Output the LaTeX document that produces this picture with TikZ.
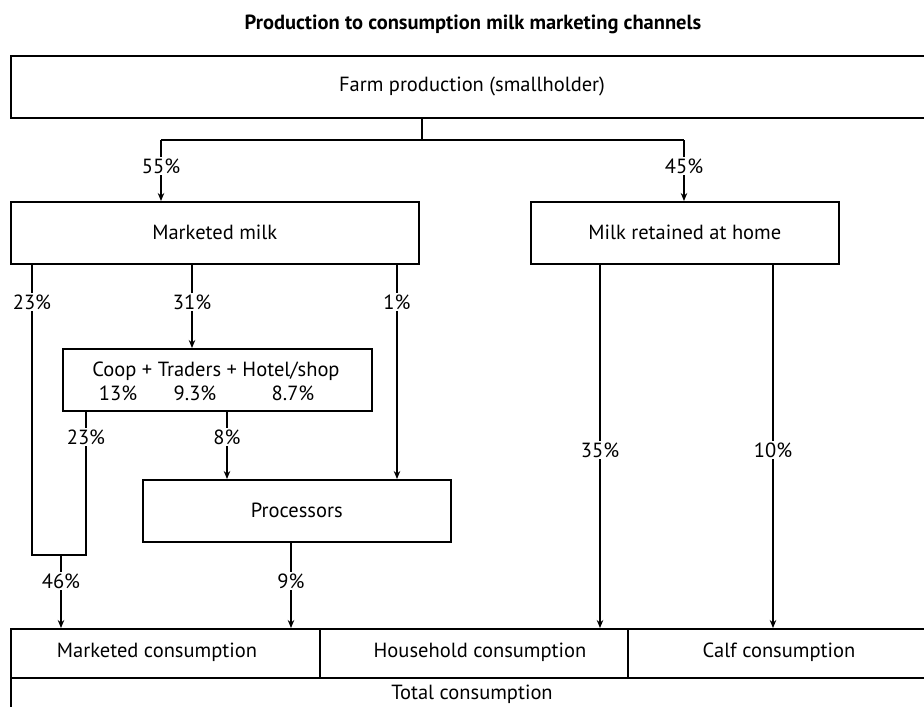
\documentclass[tikz,border=0pt]{standalone}
\usepackage{fontspec}
\setmainfont{PT Sans}
\usetikzlibrary{arrows.meta}
\begin{document}
\begin{tikzpicture}[x=1pt,y=-1pt,
  box/.style={draw, line width=1.6pt, rectangle, inner sep=0pt, anchor=north west, font=\fontsize{20.5}{24}\selectfont},
  lab/.style={inner sep=1.5pt, font=\fontsize{20.5}{24}\selectfont},
  txt/.style={inner sep=0pt, font=\fontsize{20.5}{24}\selectfont},
  con/.style={line width=1.3pt},
  arr/.style={con, -{Stealth[length=8pt,width=6.5pt]}}]
\useasboundingbox (0,0) rectangle (924,707);
\clip (0,0) rectangle (924,707);

% title
\node[font=\bfseries\fontsize{20.5}{24}\selectfont] (title) at (473,24) {Production to consumption milk marketing channels};

% boxes
\node[box, minimum width=930pt, minimum height=62pt] (farm) at (10,55) {};
\node[txt] (farmtext) at (472,86) {Farm production (smallholder)};
\node[box, minimum width=408pt, minimum height=62pt] (mm) at (10,201) {Marketed milk};
\node[box, minimum width=308pt, minimum height=62pt] (home) at (530,201) {Milk retained at home};
\node[box, minimum width=309pt, minimum height=62pt] (coop) at (62,348) {};
\node[txt] (cooptext) at (216,371) {Coop + Traders + Hotel/shop};
\node[txt] (p13) at (118,393) {13\%};
\node[txt] (p93) at (195,393) {9.3\%};
\node[txt] (p87) at (293,393) {8.7\%};
\node[box, minimum width=308pt, minimum height=62pt] (proc) at (142,479) {Processors};
\node[box, minimum width=309pt, minimum height=49pt] (mc) at (10,628) {};
\node[txt] (mctext) at (157,652) {Marketed consumption};
\node[box, minimum width=308pt, minimum height=49pt] (hc) at (319,628) {};
\node[txt] (hctext) at (480,652) {Household consumption};
\node[box, minimum width=320pt, minimum height=49pt] (cc) at (627,628) {};
\node[txt] (cctext) at (779,652) {Calf consumption};
\node[box, minimum width=940pt, minimum height=40pt] (tc) at (10,677) {};
\node[txt] (tctext) at (472,694) {Total consumption};

% labels
\node[lab] (l55) at (161,166) {55\%};
\node[lab] (l45) at (684,166) {45\%};
\node[lab] (l23a) at (32,302) {23\%};
\node[lab] (l31) at (192,302) {31\%};
\node[lab] (l1) at (397,302) {1\%};
\node[lab] (l23b) at (86,437) {23\%};
\node[lab] (l8) at (227,437) {8\%};
\node[lab] (l46) at (61,581) {46\%};
\node[lab] (l9) at (291,581) {9\%};
\node[lab] (l35) at (600,450) {35\%};
\node[lab] (l10) at (773,450) {10\%};

\coordinate (fj) at (422,140);
\coordinate (j1) at (32,555);
\coordinate (j2) at (86,555);

% connectors
\draw[con] (farm.south -| fj) -- (fj);
\draw[con] (l55 |- fj) -- (l45 |- fj);
\draw[con] (l55 |- fj) -- (l55);
\draw[arr] (l55) -- (mm.north -| l55);
\draw[con] (l45 |- fj) -- (l45);
\draw[arr] (l45) -- (home.north -| l45);

\draw[con] (mm.south -| l23a) -- (l23a);
\draw[con] (l23a) -- (j1) -- (j2) -- (l23b);
\draw[con] (coop.south -| l23b) -- (l23b);
\draw[con] (mm.south -| l31) -- (l31);
\draw[arr] (l31) -- (coop.north -| l31);
\draw[con] (mm.south -| l1) -- (l1);
\draw[arr] (l1) -- (proc.north -| l1);
\draw[con] (coop.south -| l8) -- (l8);
\draw[arr] (l8) -- (proc.north -| l8);
\draw[con] (l46 |- j1) -- (l46);
\draw[arr] (l46) -- (mc.north -| l46);
\draw[con] (proc.south -| l9) -- (l9);
\draw[arr] (l9) -- (mc.north -| l9);
\draw[con] (home.south -| l35) -- (l35);
\draw[arr] (l35) -- (hc.north -| l35);
\draw[con] (home.south -| l10) -- (l10);
\draw[arr] (l10) -- (cc.north -| l10);
\end{tikzpicture}
\end{document}
